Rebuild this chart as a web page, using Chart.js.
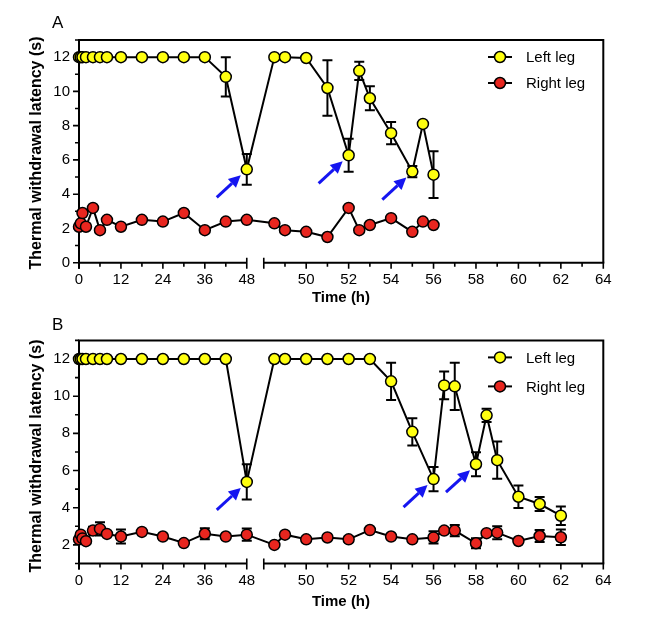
<!DOCTYPE html>
<html>
<head>
<meta charset="utf-8">
<script src="https://cdn.jsdelivr.net/npm/chart.js@4.4.0/dist/chart.umd.min.js"></script>
<style>
  html, body { margin: 0; padding: 0; background: #fff; }
  #wrap { position: relative; width: 666px; height: 633px; }
  canvas { position: absolute; left: 0; }
  #panelA { top: 0; }
  #panelB { top: 316px; }
</style>
</head>
<body>
<div id="wrap">
  <canvas id="panelA" width="666" height="316"></canvas>
  <canvas id="panelB" width="666" height="317"></canvas>
</div>
<script>
// ---- panel A data (hours, seconds) ----
const timesA = [0, 0.5, 1, 2, 4, 6, 8, 12, 18, 24, 30, 36, 42, 48, 48.5, 49, 50, 51, 52, 52.5, 53, 54, 55, 55.5, 56];
const leftA = [12, 12, 12, 12, 12, 12, 12, 12, 12, 12, 12, 12, 10.85, 5.45, 12, 12, 11.95, 10.2, 6.27, 11.2, 9.6, 7.56, 5.32, 8.1, 5.14];
const leftErrA = [0, 0, 0, 0, 0, 0, 0, 0, 0, 0, 0, 0, 1.15, 0.9, 0, 0, 0, 1.62, 0.96, 0.53, 0.7, 0.65, 0.33, 0, 1.36];
const rightA = [2.1, 2.3, 2.9, 2.1, 3.2, 1.9, 2.5, 2.1, 2.5, 2.4, 2.9, 1.9, 2.4, 2.5, 2.3, 1.9, 1.8, 1.5, 3.2, 1.9, 2.2, 2.6, 1.8, 2.4, 2.2];
const rightErrA = [0, 0, 0, 0, 0, 0, 0, 0, 0, 0, 0, 0, 0, 0, 0, 0, 0, 0, 0, 0, 0, 0, 0, 0, 0];
const arrowsA = [48, 52, 55];

// ---- panel B data ----
const timesB = [0, 0.5, 1, 2, 4, 6, 8, 12, 18, 24, 30, 36, 42, 48, 48.5, 49, 50, 51, 52, 53, 54, 55, 56, 56.5, 57, 58, 58.5, 59, 60, 61, 62];
const leftB = [12, 12, 12, 12, 12, 12, 12, 12, 12, 12, 12, 12, 12, 5.39, 12, 12, 12, 12, 12, 12, 10.8, 8.08, 5.54, 10.58, 10.53, 6.34, 8.97, 6.56, 4.59, 4.2, 3.57];
const leftErrB = [0, 0, 0, 0, 0, 0, 0, 0, 0, 0, 0, 0, 0, 0.95, 0, 0, 0, 0, 0, 0, 1.0, 0.73, 0.65, 0.75, 1.27, 0.65, 0.36, 1.0, 0.6, 0.38, 0.5];
const rightB = [2.3, 2.55, 2.35, 2.2, 2.77, 2.86, 2.59, 2.45, 2.7, 2.45, 2.1, 2.6, 2.45, 2.55, 2.0, 2.55, 2.3, 2.4, 2.3, 2.8, 2.45, 2.3, 2.4, 2.77, 2.77, 2.09, 2.63, 2.66, 2.21, 2.48, 2.41];
const rightErrB = [0, 0, 0, 0, 0.2, 0.36, 0, 0.38, 0, 0, 0, 0.3, 0, 0.33, 0, 0, 0, 0, 0.15, 0, 0, 0, 0.33, 0, 0.3, 0.27, 0, 0.35, 0, 0.32, 0.42];
const arrowsB = [48, 56, 58];

// ---- axis ticks ----
const xTicksLeft = [0, 6, 12, 18, 24, 30, 36, 42, 48];
const xLabelsLeft = [0, 12, 24, 36, 48];
const xTicksRight = [48, 49, 50, 51, 52, 53, 54, 55, 56, 57, 58, 59, 60, 61, 62, 63, 64];
const xLabelsRight = [50, 52, 54, 56, 58, 60, 62, 64];
const yTicksA = [0, 1, 2, 3, 4, 5, 6, 7, 8, 9, 10, 11, 12, 13];
const yLabelsA = [0, 2, 4, 6, 8, 10, 12];
const yTicksB = [1, 2, 3, 4, 5, 6, 7, 8, 9, 10, 11, 12, 13];
const yLabelsB = [2, 4, 6, 8, 10, 12];

const YELLOW = '#ffff10';
const RED = '#e8261f';
const ARROW_BLUE = '#1515f0';
const FONT = '"Liberation Sans", Arial, sans-serif';

// x axis is broken: 0-48 h squeezed on the left, 48-64 h stretched on the right
const BREAK_H = 48;
const LEFT_PER_H = 3.495;
const GAP = 17;
const RIGHT_PER_H = 21.22;

function toAxis(h, rightSide) {
  if (h <= BREAK_H && !rightSide) return h * LEFT_PER_H;
  return BREAK_H * LEFT_PER_H + GAP + (h - BREAK_H) * RIGHT_PER_H;
}
const X_MAX = toAxis(64, true);

function decorPlugin(p) {
  return {
    id: 'decor' + p.letter,
    beforeDatasetsDraw(chart) {
      const { ctx, chartArea: a, scales: { x, y } } = chart;
      ctx.save();
      ctx.strokeStyle = '#000';
      ctx.fillStyle = '#000';
      ctx.lineWidth = 2;
      ctx.lineCap = 'butt';

      // frame: y axis, top and right border
      ctx.beginPath();
      ctx.moveTo(a.left, a.bottom + 6);
      ctx.lineTo(a.left, a.top);
      ctx.lineTo(a.right, a.top);
      ctx.lineTo(a.right, a.bottom);
      ctx.stroke();

      // x axis, two pieces
      const l0 = x.getPixelForValue(toAxis(0)), l1 = x.getPixelForValue(toAxis(48));
      const r0 = x.getPixelForValue(toAxis(48, true)), r1 = x.getPixelForValue(toAxis(64, true));
      ctx.beginPath();
      ctx.moveTo(l0 - 1, a.bottom); ctx.lineTo(l1, a.bottom);
      ctx.moveTo(r0, a.bottom); ctx.lineTo(r1 + 1, a.bottom);
      ctx.stroke();

      ctx.lineWidth = 1.6;
      ctx.font = '15px ' + FONT;
      ctx.textAlign = 'center';
      ctx.textBaseline = 'middle';
      ctx.beginPath();
      xTicksLeft.forEach(h => {
        const px = x.getPixelForValue(toAxis(h));
        const major = xLabelsLeft.includes(h);
        if (h === 48) { ctx.moveTo(px, a.bottom - 5); ctx.lineTo(px, a.bottom + 6); }
        else { ctx.moveTo(px, a.bottom); ctx.lineTo(px, a.bottom + (major ? 6 : 4)); }
        if (major) ctx.fillText(String(h), px, a.bottom + p.xLabelDy);
      });
      xTicksRight.forEach(h => {
        const px = x.getPixelForValue(toAxis(h, true));
        const major = xLabelsRight.includes(h);
        if (h === 48) { ctx.moveTo(px, a.bottom - 5); ctx.lineTo(px, a.bottom + 6); }
        else { ctx.moveTo(px, a.bottom); ctx.lineTo(px, a.bottom + (major ? 6 : 4)); }
        if (major) ctx.fillText(String(h), px, a.bottom + p.xLabelDy);
      });

      // y ticks
      ctx.textAlign = 'right';
      p.yTicks.forEach(v => {
        const py = y.getPixelForValue(v);
        const major = p.yLabels.includes(v);
        ctx.moveTo(a.left, py); ctx.lineTo(a.left - (major ? 6 : 4), py);
        if (major) ctx.fillText(String(v), a.left - 9, py);
      });
      ctx.stroke();

      // titles
      ctx.font = 'bold 15px ' + FONT;
      ctx.textAlign = 'center';
      ctx.fillText('Time (h)', 341, a.bottom + p.xTitleDy);
      ctx.save();
      ctx.translate(37, p.yTitleY);
      ctx.rotate(-Math.PI / 2);
      ctx.font = 'bold 16px ' + FONT;
      ctx.fillText('Thermal withdrawal latency (s)', 0, 0);
      ctx.restore();

      ctx.font = '17px ' + FONT;
      ctx.textAlign = 'left';
      ctx.fillText(p.letter, 52, p.letterY);

      // error bars (under the markers)
      ctx.lineWidth = 2;
      ctx.beginPath();
      [[p.left, p.leftErr], [p.right, p.rightErr]].forEach(([vals, errs]) => {
        vals.forEach((v, i) => {
          const e = errs[i];
          if (!e) return;
          const px = x.getPixelForValue(toAxis(p.times[i]));
          const top = y.getPixelForValue(v + e), bot = y.getPixelForValue(v - e);
          ctx.moveTo(px, top); ctx.lineTo(px, bot);
          ctx.moveTo(px - 5, top); ctx.lineTo(px + 5, top);
          ctx.moveTo(px - 5, bot); ctx.lineTo(px + 5, bot);
        });
      });
      ctx.stroke();
      ctx.restore();
    },
    afterDatasetsDraw(chart) {
      const { ctx, chartArea: a, scales: { x, y } } = chart;
      ctx.save();
      // arrows pointing at the marked left-leg points
      p.arrows.forEach(h => {
        const i = p.times.indexOf(h);
        const px = x.getPixelForValue(toAxis(h)), py = y.getPixelForValue(p.left[i]);
        const tx = px - 6, ty = py + 6, sx = px - 30, sy = py + 28;
        const ang = Math.atan2(ty - sy, tx - sx);
        const hl = 12, hw = 6;
        const bx = tx - hl * Math.cos(ang), by = ty - hl * Math.sin(ang);
        ctx.strokeStyle = ARROW_BLUE;
        ctx.fillStyle = ARROW_BLUE;
        ctx.lineWidth = 3;
        ctx.beginPath();
        ctx.moveTo(sx, sy); ctx.lineTo(bx, by);
        ctx.stroke();
        ctx.beginPath();
        ctx.moveTo(tx, ty);
        ctx.lineTo(bx + hw * Math.sin(ang), by - hw * Math.cos(ang));
        ctx.lineTo(bx - hw * Math.sin(ang), by + hw * Math.cos(ang));
        ctx.closePath();
        ctx.fill();
      });

      // legend
      const rows = [['Left leg', YELLOW], ['Right leg', RED]];
      ctx.font = '15px ' + FONT;
      ctx.textAlign = 'left';
      ctx.textBaseline = 'middle';
      rows.forEach(([label, col], k) => {
        const cy = a.top + p.legendY[k];
        ctx.strokeStyle = '#000';
        ctx.lineWidth = 2;
        ctx.beginPath();
        ctx.moveTo(488, cy); ctx.lineTo(512, cy);
        ctx.stroke();
        ctx.beginPath();
        ctx.arc(500, cy, 5.5, 0, Math.PI * 2);
        ctx.fillStyle = col;
        ctx.fill();
        ctx.lineWidth = 1.5;
        ctx.stroke();
        ctx.fillStyle = '#000';
        ctx.fillText(label, 526, cy + 1);
      });
      ctx.restore();
    }
  };
}

function makePanel(id, p) {
  const ctx = document.getElementById(id).getContext('2d');
  const pts = vals => vals.map((v, i) => ({ x: toAxis(p.times[i]), y: v }));
  const style = col => ({
    borderColor: '#000', borderWidth: 2,
    pointBackgroundColor: col, pointBorderColor: '#000', pointBorderWidth: 1.5,
    pointRadius: 5.5, pointHoverRadius: 5.5, tension: 0, clip: false, fill: false
  });
  return new Chart(ctx, {
    type: 'line',
    data: {
      datasets: [
        Object.assign({ label: 'Right leg', data: pts(p.right) }, style(RED)),
        Object.assign({ label: 'Left leg', data: pts(p.left) }, style(YELLOW))
      ]
    },
    options: {
      responsive: false,
      animation: false,
      events: [],
      layout: { padding: p.padding },
      plugins: { legend: { display: false }, tooltip: { enabled: false } },
      scales: {
        x: { type: 'linear', min: 0, max: X_MAX, display: false },
        y: { type: 'linear', min: p.yMin, max: 13, display: false }
      }
    },
    plugins: [decorPlugin(p)]
  });
}

makePanel('panelA', {
  letter: 'A', letterY: 23,
  times: timesA, left: leftA, leftErr: leftErrA, right: rightA, rightErr: rightErrA, arrows: arrowsA,
  yMin: 0, yTicks: yTicksA, yLabels: yLabelsA,
  padding: { left: 79, right: 62.7, top: 40, bottom: 53.3 },
  xLabelDy: 17, xTitleDy: 35, yTitleY: 153, legendY: [17, 43]
});

makePanel('panelB', {
  letter: 'B', letterY: 9,
  times: timesB, left: leftB, leftErr: leftErrB, right: rightB, rightErr: rightErrB, arrows: arrowsB,
  yMin: 1, yTicks: yTicksB, yLabels: yLabelsB,
  padding: { left: 79, right: 62.7, top: 24.4, bottom: 69.5 },
  xLabelDy: 17, xTitleDy: 38, yTitleY: 140, legendY: [17, 46]
});
</script>
</body>
</html>
